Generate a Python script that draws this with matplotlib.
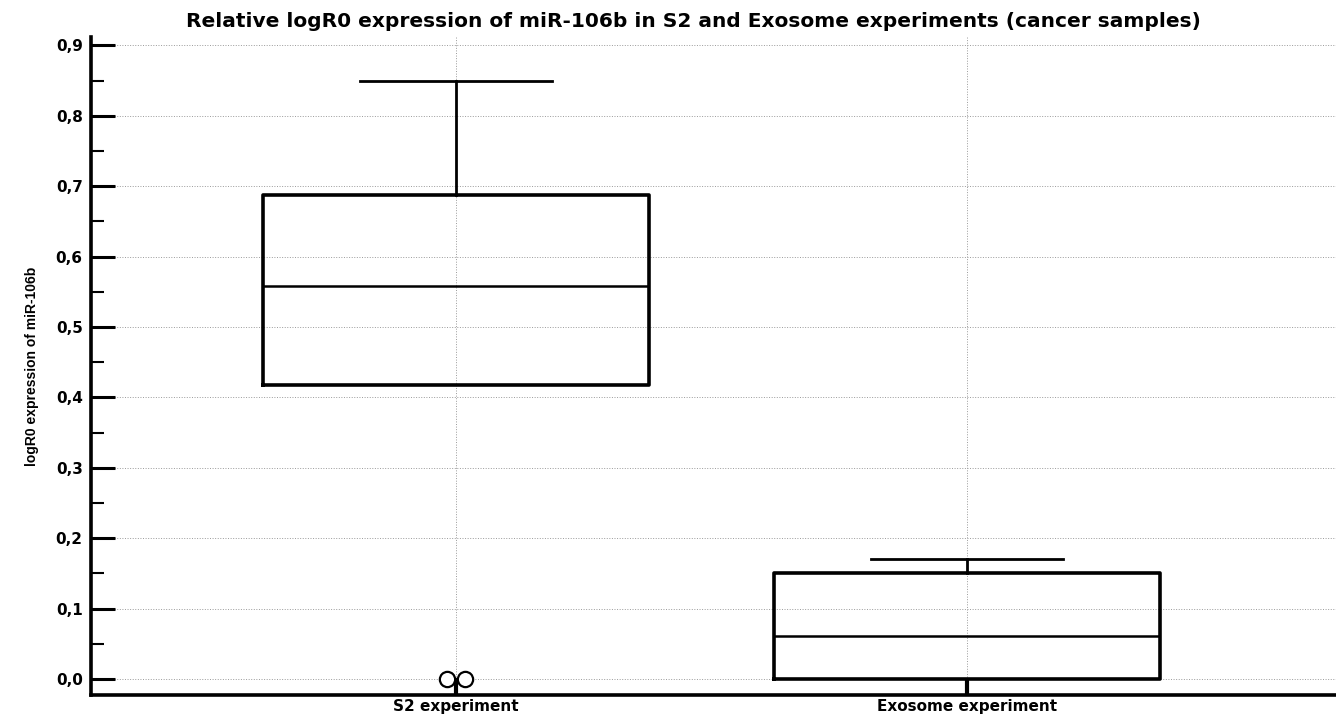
import matplotlib
matplotlib.use("Agg")
import matplotlib.pyplot as plt
from matplotlib.ticker import MultipleLocator, FixedLocator

# ---- data ----
categories = ["S2 experiment", "Exosome experiment"]
q1 = [0.417, 0.0]
median = [0.558, 0.061]
q3 = [0.688, 0.151]
whisker_low = [0.417, 0.0]
whisker_high = [0.849, 0.171]
outliers = [[0.0, 0.0], []]
yticks = [0.0, 0.1, 0.2, 0.3, 0.4, 0.5, 0.6, 0.7, 0.8, 0.9]
ytick_labels = ["0,0", "0,1", "0,2", "0,3", "0,4", "0,5", "0,6", "0,7", "0,8", "0,9"]

title = "Relative logR0 expression of miR-106b in S2 and Exosome experiments (cancer samples)"
ylabel = "logR0 expression of miR-106b"

plt.rcParams['font.family'] = ['DejaVu Sans']

fig = plt.figure(figsize=(13.36, 7.21), dpi=100)
ax = fig.add_axes([0.0681, 0.036, 0.9319, 0.9127])

positions = [1, 2]
stats = []
for i, c in enumerate(categories):
    stats.append(dict(label=c, q1=q1[i], med=median[i], q3=q3[i],
                      whislo=whisker_low[i], whishi=whisker_high[i], fliers=[]))

bp = ax.bxp(stats, positions=positions, widths=0.755, showfliers=False,
            boxprops=dict(color='black', linewidth=2.6),
            medianprops=dict(color='black', linewidth=1.8),
            whiskerprops=dict(color='black', linewidth=2.0),
            capprops=dict(color='black', linewidth=2.0),
            capwidths=0.377, zorder=3)
# no lower caps are drawn in the reference
for k, cap in enumerate(bp['caps']):
    if k % 2 == 0:
        cap.set_visible(False)

# outliers (small horizontal offsets so they do not overlap)
for i, vals in enumerate(outliers):
    n = len(vals)
    for j, v in enumerate(vals):
        off = (j - (n - 1) / 2) * 0.036
        ax.plot(positions[i] + off, v, marker='o', markersize=11,
                markerfacecolor='white', markeredgecolor='black',
                markeredgewidth=1.6, linestyle='none', zorder=4, clip_on=False)

ax.set_xlim(0.286, 2.722)
ax.set_ylim(-0.0227, 0.912)

ax.yaxis.set_major_locator(FixedLocator(yticks))
ax.set_yticklabels(ytick_labels)
ax.yaxis.set_minor_locator(MultipleLocator(0.05))
ax.set_xticks(positions)
ax.set_xticklabels(categories)

ax.tick_params(axis='y', which='major', direction='in', length=17, width=2.2,
               labelsize=11, pad=6)
ax.tick_params(axis='y', which='minor', direction='in', length=9, width=1.5)
ax.tick_params(axis='x', which='major', direction='in', length=12, width=3.0,
               labelsize=11, pad=3)
for lab in ax.get_yticklabels() + ax.get_xticklabels():
    lab.set_fontweight('bold')

ax.grid(True, which='major', color='#9a9a9a', linestyle=':', linewidth=0.7, zorder=0)
ax.set_axisbelow(True)

for s in ['top', 'right']:
    ax.spines[s].set_visible(False)
ax.spines['left'].set_linewidth(2.6)
ax.spines['bottom'].set_linewidth(2.6)

ax.set_title(title, fontsize=14.5, fontweight='bold', pad=7, x=0.4835)
ax.set_ylabel(ylabel, fontsize=10, fontweight='bold', labelpad=12,
              family=['Liberation Sans', 'DejaVu Sans'])

fig.savefig("out.png", dpi=100)
